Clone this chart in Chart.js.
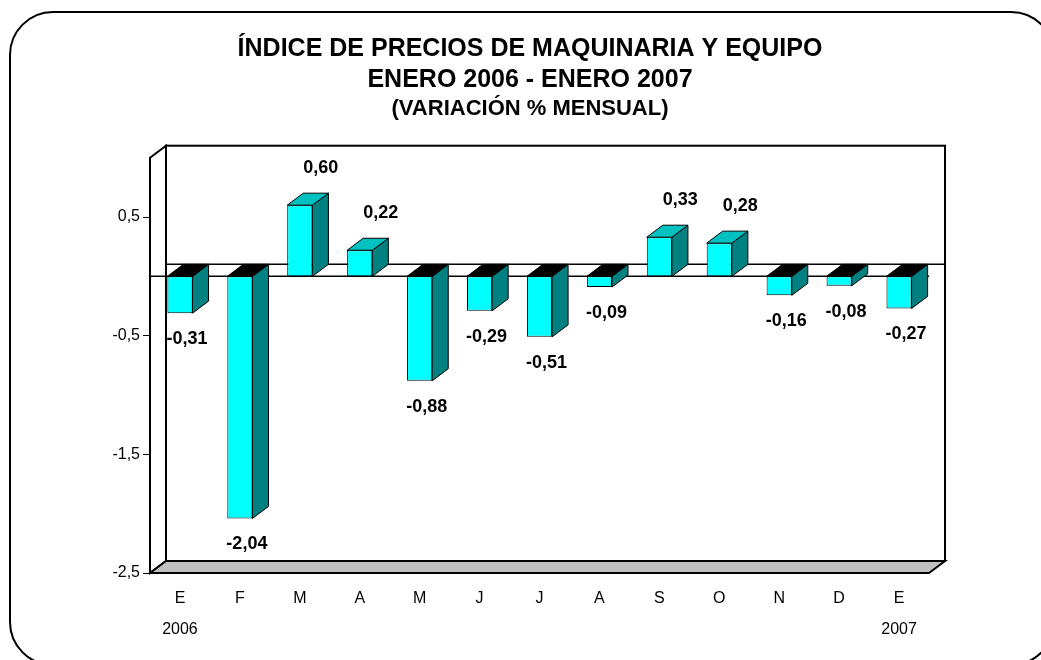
<!DOCTYPE html>
<html>
<head>
<meta charset="utf-8">
<script src="https://cdn.jsdelivr.net/npm/chart.js@4.4.0/dist/chart.umd.min.js"></script>
<style>
    html, body { margin: 0; padding: 0; background: #fff; }
</style>
</head>
<body>
<canvas id="ipm-chart" width="1041" height="660"></canvas>
<script>
// *************************IPM variación mensual ene 2006 - ene 2007
let months = ['E', 'F', 'M', 'A', 'M', 'J', 'J', 'A', 'S', 'O', 'N', 'D', 'E'];
let years = ['2006', '', '', '', '', '', '', '', '', '', '', '', '2007'];
let variation = [-0.31, -2.04, 0.60, 0.22, -0.88, -0.29, -0.51, -0.09, 0.33, 0.28, -0.16, -0.08, -0.27];
let yTicks = [-2.5, -1.5, -0.5, 0.5];

const FONT = '"Liberation Sans", Arial, sans-serif';
const DX = 16;   // profundidad 3D
const DY = 12;

function fmt(v, d) {
    return v.toFixed(d).replace('.', ',');
}

// etiquetas de eje x (mes + año en extremos)
let labels = [];
for (let i = 0; i < months.length; i++) {
    if (years[i] !== '') {
        labels.push([months[i], years[i]]);
    } else {
        labels.push(months[i]);
    }
}

// marco redondeado, paredes, piso y línea cero
const frame3d = {
    id: 'frame3d',
    afterLayout(chart) {
        // centrar títulos sobre el marco, no sobre el canvas
        chart.boxes.forEach(function (box) {
            if (box.fullSize && box.position === 'top') {
                box.left = 135;
                box.right = 925;
            }
        });
    },
    beforeDraw(chart) {
        const ctx = chart.ctx;
        const { left, right, top, bottom } = chart.chartArea;
        const y0 = chart.scales.y.getPixelForValue(0);
        ctx.save();
        ctx.fillStyle = '#fff';
        ctx.fillRect(0, 0, chart.width, chart.height);

        ctx.strokeStyle = '#000';
        ctx.lineWidth = 2;
        ctx.beginPath();
        ctx.roundRect(10, 12, 1044, 653, 43);
        ctx.stroke();

        // pared trasera
        ctx.fillStyle = '#fff';
        ctx.fillRect(left + DX, top - DY, right - left, bottom - top);
        ctx.strokeRect(left + DX, top - DY, right - left, bottom - top);

        // pared izquierda
        ctx.beginPath();
        ctx.moveTo(left, top);
        ctx.lineTo(left + DX, top - DY);
        ctx.lineTo(left + DX, bottom - DY);
        ctx.lineTo(left, bottom);
        ctx.closePath();
        ctx.fill();
        ctx.stroke();

        // piso
        ctx.fillStyle = '#c0c0c0';
        ctx.beginPath();
        ctx.moveTo(left, bottom);
        ctx.lineTo(right, bottom);
        ctx.lineTo(right + DX, bottom - DY);
        ctx.lineTo(left + DX, bottom - DY);
        ctx.closePath();
        ctx.fill();
        ctx.stroke();

        // línea cero
        ctx.lineWidth = 1.5;
        ctx.beginPath();
        ctx.moveTo(left + DX, y0 - DY);
        ctx.lineTo(right + DX, y0 - DY);
        ctx.moveTo(left, y0);
        ctx.lineTo(right, y0);
        ctx.stroke();
        ctx.restore();
    }
};

// caras laterales / superiores y valores
const bars3d = {
    id: 'bars3d',
    afterDatasetsDraw(chart) {
        const ctx = chart.ctx;
        const meta = chart.getDatasetMeta(0);
        ctx.save();
        ctx.strokeStyle = '#000';
        ctx.lineWidth = 1;
        meta.data.forEach(function (bar, i) {
            const p = bar.getProps(['x', 'y', 'base', 'width'], true);
            const x1 = p.x - p.width / 2;
            const x2 = p.x + p.width / 2;
            const yTop = Math.min(p.y, p.base);
            const yBot = Math.max(p.y, p.base);
            const v = variation[i];

            // lado
            ctx.fillStyle = '#008080';
            ctx.beginPath();
            ctx.moveTo(x2, yTop);
            ctx.lineTo(x2 + DX, yTop - DY);
            ctx.lineTo(x2 + DX, yBot - DY);
            ctx.lineTo(x2, yBot);
            ctx.closePath();
            ctx.fill();
            ctx.stroke();

            // tapa
            ctx.fillStyle = v < 0 ? '#000' : '#00c0c0';
            ctx.beginPath();
            ctx.moveTo(x1, yTop);
            ctx.lineTo(x1 + DX, yTop - DY);
            ctx.lineTo(x2 + DX, yTop - DY);
            ctx.lineTo(x2, yTop);
            ctx.closePath();
            ctx.fill();
            ctx.stroke();

            // valor
            ctx.fillStyle = '#000';
            ctx.font = 'bold 18px ' + FONT;
            ctx.textAlign = 'center';
            ctx.textBaseline = 'middle';
            if (v < 0) {
                ctx.fillText(fmt(v, 2), p.x + 7, yBot + 26);
            } else {
                ctx.fillText(fmt(v, 2), p.x + 21, yTop - 37);
            }
        });
        ctx.restore();
    }
};

var data = {
    labels: labels,
    datasets: [{
        label: 'Variación % mensual',
        data: variation,
        backgroundColor: '#00ffff',
        borderColor: '#000',
        borderWidth: 1,
        borderSkipped: false,
        barPercentage: 0.42,
        categoryPercentage: 1
    }]
};

var options = {
    responsive: false,
    animation: false,
    layout: {
        padding: { top: 18, left: 40, right: 112, bottom: 0 }
    },
    plugins: {
        legend: { display: false },
        tooltip: { enabled: false },
        title: {
            display: true,
            text: ['ÍNDICE DE PRECIOS DE MAQUINARIA Y EQUIPO', 'ENERO 2006 - ENERO 2007'],
            color: '#000',
            font: { family: FONT, size: 25, weight: 'bold', lineHeight: 1.24 },
            padding: { top: 15.5, bottom: 0 }
        },
        subtitle: {
            display: true,
            text: '(VARIACIÓN % MENSUAL)',
            color: '#000',
            font: { family: FONT, size: 22, weight: 'bold', lineHeight: 1.2 },
            padding: { top: 0.4, bottom: 35.4 }
        }
    },
    scales: {
        x: {
            offset: true,
            grid: { display: false, drawTicks: false },
            border: { display: false },
            ticks: {
                color: '#000',
                padding: 10,
                maxRotation: 0,
                autoSkip: false,
                font: { family: FONT, size: 16, lineHeight: 1.9375 }
            },
            afterFit: function (scale) {
                scale.height = 87;
            }
        },
        y: {
            min: -2.5,
            max: 1.0,
            grid: {
                drawOnChartArea: false,
                drawTicks: true,
                tickLength: 7,
                color: '#000'
            },
            border: { display: false },
            ticks: {
                color: '#000',
                padding: 3,
                font: { family: FONT, size: 16 },
                callback: function (value) {
                    return fmt(value, 1);
                }
            },
            afterBuildTicks: function (scale) {
                scale.ticks = yTicks.map(function (v) { return { value: v }; });
            },
            afterFit: function (scale) {
                scale.width = 110;
            }
        }
    }
};

var ctx = document.getElementById('ipm-chart').getContext('2d');
var ipmChart = new Chart(ctx, {
    type: 'bar',
    data: data,
    options: options,
    plugins: [frame3d, bars3d]
});
</script>
</body>
</html>
